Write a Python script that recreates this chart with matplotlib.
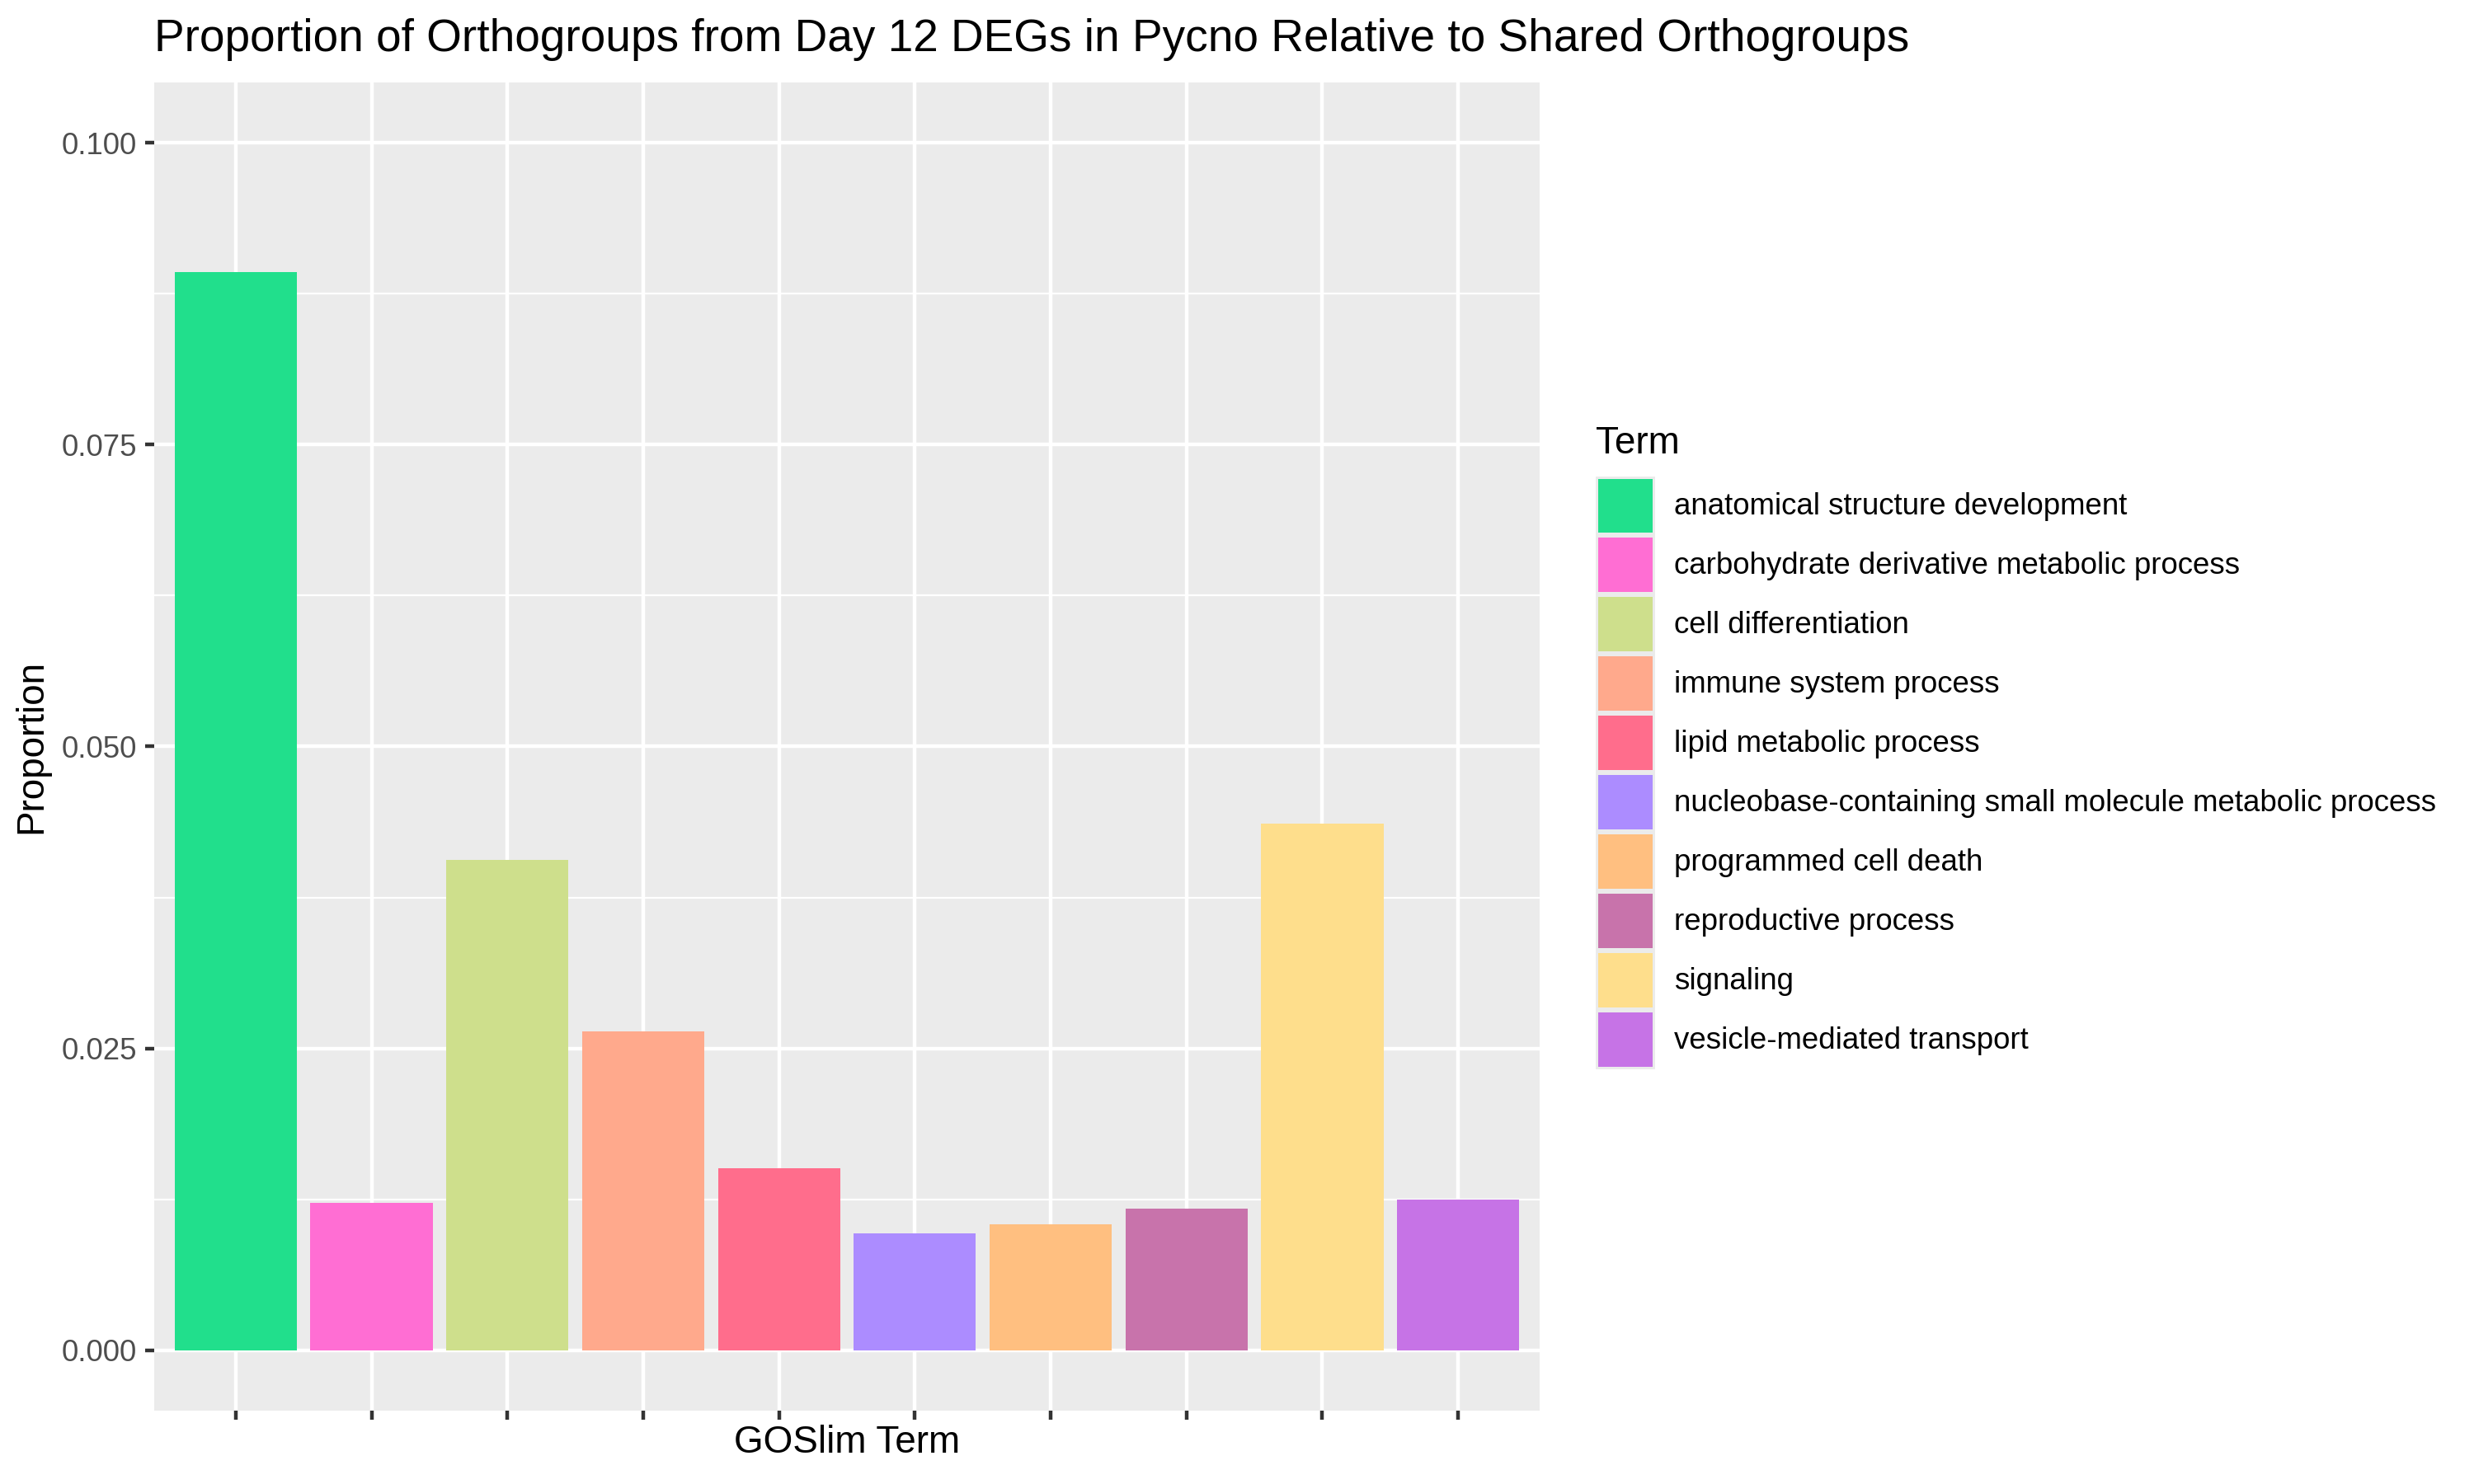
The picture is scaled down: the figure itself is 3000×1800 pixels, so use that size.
import matplotlib
matplotlib.use("Agg")
import matplotlib.pyplot as plt
from matplotlib.patches import Patch
from matplotlib.ticker import MultipleLocator

plt.rcParams['font.family'] = ['Liberation Sans', 'DejaVu Sans']

terms = [
    "anatomical structure development",
    "carbohydrate derivative metabolic process",
    "cell differentiation",
    "immune system process",
    "lipid metabolic process",
    "nucleobase-containing small molecule metabolic process",
    "programmed cell death",
    "reproductive process",
    "signaling",
    "vesicle-mediated transport",
]
proportions = [0.0893, 0.0122, 0.0406, 0.0264, 0.0151,
               0.0097, 0.0104, 0.0117, 0.0436, 0.0125]
colors = ["#21DF8C", "#FF6ED3", "#CEDF8C", "#FFA98C", "#FF6D8C",
          "#AC8CFF", "#FFBF80", "#C873AB", "#FEDE8C", "#C673E6"]
y_ticks = [0.000, 0.025, 0.050, 0.075, 0.100]

fig = plt.figure(figsize=(10, 6), dpi=300)
ax = fig.add_axes([187 / 3000, 1 - 1711 / 1800, 1680 / 3000, 1611 / 1800])
ax.set_facecolor("#EBEBEB")

pos = list(range(1, len(terms) + 1))
ax.bar(pos, proportions, width=0.9, color=colors, zorder=3)

ax.set_xlim(0.4, 10.6)
ax.set_ylim(-0.005, 0.105)
ax.set_xticks(pos)
ax.set_xticklabels([""] * len(pos))
ax.set_yticks(y_ticks)
ax.set_yticklabels([f"{v:.3f}" for v in y_ticks])
ax.yaxis.set_minor_locator(MultipleLocator(0.0125))

ax.grid(which="major", color="white", linewidth=1.07, zorder=1)
ax.grid(which="minor", axis="y", color="white", linewidth=0.53, zorder=1)
ax.set_axisbelow(True)
for s in ax.spines.values():
    s.set_visible(False)
ax.tick_params(which="major", length=2.75, width=1.07, color="#333333",
               labelsize=8.8, labelcolor="#4D4D4D", pad=2.2)
ax.tick_params(which="minor", length=0)

ax.set_title("Proportion of Orthogroups from Day 12 DEGs in Pycno Relative to Shared Orthogroups",
             loc="left", fontsize=13.2, pad=9)
ax.set_xlabel("GOSlim Term", fontsize=11)
ax.set_ylabel("Proportion", fontsize=11)
ax.xaxis.set_label_coords(0.5, -0.0242)
ax.xaxis.label.set_va("center")
ax.yaxis.set_label_coords(-0.0887, 0.5)
ax.yaxis.label.set_va("center")

# legend: keys on grey92 background like ggplot
fig.text(0.645, 1 - 550 / 1800, "Term", fontsize=11, ha="left", va="baseline")
handles = [Patch(facecolor=c, edgecolor="#EBEBEB", linewidth=0.72) for c in colors]
fig.legend(handles, terms, loc="upper left", bbox_to_anchor=(0.6452, 1 - 578.5 / 1800),
           frameon=False, fontsize=8.8,
           handlelength=1.88, handleheight=2.515, labelspacing=0.082,
           handletextpad=0.69, borderpad=0, borderaxespad=0)

fig.savefig("out.png", dpi=300)
